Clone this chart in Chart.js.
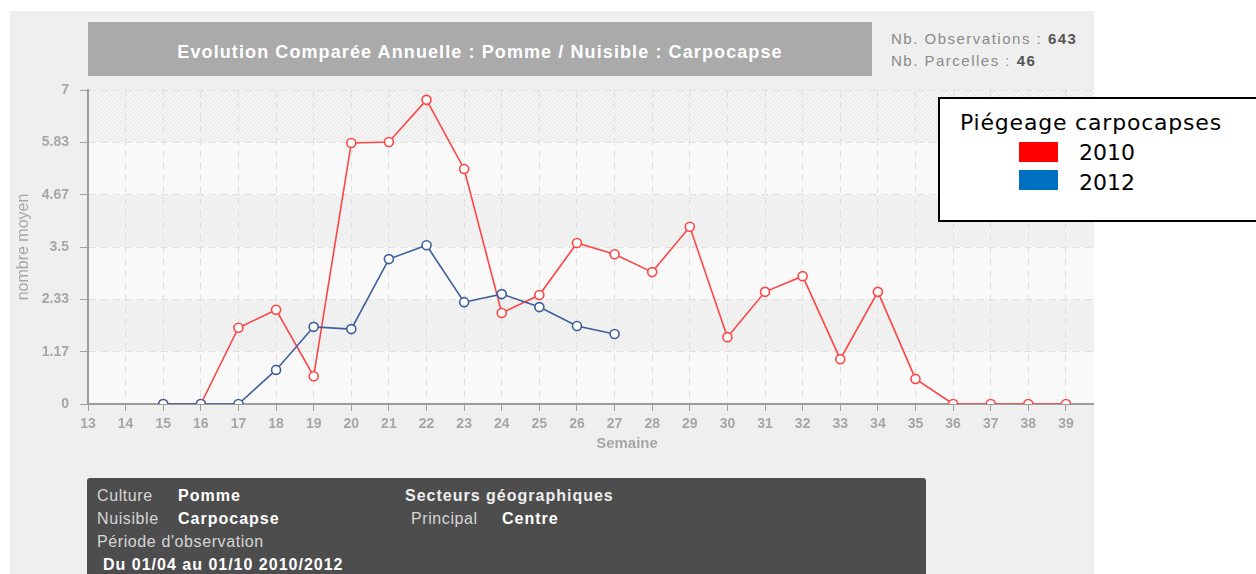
<!DOCTYPE html>
<html>
<head>
<meta charset="utf-8">
<script src="https://cdn.jsdelivr.net/npm/chart.js@4.4.0/dist/chart.umd.min.js"></script>
<style>
    body {
        margin: 0;
        width: 1256px;
        height: 574px;
        overflow: hidden;
        position: relative;
        background: #fff;
        font-family: "Liberation Sans", Arial, sans-serif;
    }
    .panel {
        position: absolute;
        left: 10px;
        top: 11px;
        width: 1084px;
        height: 563px;
        background: #efefef;
    }
    .title-box {
        position: absolute;
        left: 88px;
        top: 22px;
        width: 784px;
        height: 48px;
        padding-top: 6px;
        line-height: 48px;
        background: #aaa;
        color: #fff;
        font-size: 18px;
        font-weight: bold;
        letter-spacing: 1.1px;
        text-align: center;
    }
    .stats {
        position: absolute;
        left: 891px;
        top: 28px;
        font-size: 15px;
        line-height: 22px;
        letter-spacing: 1.5px;
        color: #8a8a8a;
    }
    .stats b { color: #555; }
    .chart-wrap {
        position: absolute;
        left: 0;
        top: 0;
        width: 1094px;
        height: 574px;
        overflow: hidden;
    }
    .legend {
        position: absolute;
        left: 938px;
        top: 97px;
        width: 340px;
        height: 125px;
        box-sizing: border-box;
        border: 2px solid #000;
        background: #fff;
        font-family: "DejaVu Sans", Verdana, sans-serif;
        font-size: 22px;
        color: #000;
    }
    .legend div { position: absolute; line-height: 22px; white-space: nowrap; }
    .legend .title { letter-spacing: 0.8px; }
    .legend .swatch { width: 39px; height: 20px; }
    .info {
        position: absolute;
        left: 87px;
        top: 478px;
        width: 839px;
        height: 110px;
        background: #4d4d4d;
        border-radius: 3px;
        font-size: 16px;
        letter-spacing: 0.6px;
        color: #d6d6d6;
    }
    .info div { position: absolute; line-height: 23px; white-space: nowrap; }
    .info b { color: #fff; letter-spacing: 1px; }
</style>
</head>
<body>

<div class="panel"></div>
<div class="title-box">Evolution Comparée Annuelle : Pomme / Nuisible : Carpocapse</div>
<div class="stats">Nb. Observations : <b>643</b><br>Nb. Parcelles : <b>46</b></div>

<div class="chart-wrap">
    <canvas id="trap_chart" width="1256" height="574"></canvas>
</div>

<div class="legend"></div>

<div class="info">
    <div style="left:10px; top:6px">Culture</div>
    <div style="left:91px; top:6px"><b>Pomme</b></div>
    <div style="left:318px; top:6px"><b style="color:#eee">Secteurs géographiques</b></div>
    <div style="left:10px; top:29px">Nuisible</div>
    <div style="left:91px; top:29px"><b>Carpocapse</b></div>
    <div style="left:324px; top:29px">Principal</div>
    <div style="left:415px; top:29px"><b>Centre</b></div>
    <div style="left:10px; top:52px">Période d'observation</div>
    <div style="left:16px; top:75px"><b>Du 01/04 au 01/10 2010/2012</b></div>
</div>

<script>
// data
weeks_2010 = [15, 16, 17, 18, 19, 20, 21, 22, 23, 24, 25, 26, 27, 28, 29, 30, 31, 32, 33, 34, 35, 36, 37, 38, 39]
values_2010 = [0, 0, 1.7, 2.1, 0.62, 5.82, 5.84, 6.78, 5.24, 2.03, 2.43, 3.59, 3.34, 2.94, 3.95, 1.49, 2.5, 2.85, 1.0, 2.5, 0.56, 0, 0, 0, 0]

weeks_2012 = [15, 16, 17, 18, 19, 20, 21, 22, 23, 24, 25, 26, 27]
values_2012 = [0, 0, 0, 0.76, 1.72, 1.67, 3.23, 3.54, 2.27, 2.45, 2.16, 1.74, 1.56]

y_tick_values = [0, 1.1667, 2.3333, 3.5, 4.6667, 5.8333, 7]
y_tick_labels = ['0', '1.17', '2.33', '3.5', '4.67', '5.83', '7']

legend_title = 'Piégeage carpocapses'
legend_labels = ['2010', '2012']
legend_colors = ['#ff0000', '#0070c0']

//legend
legend = document.getElementsByClassName('legend')[0]
legend.innerHTML = `<div class="title" style="left:20px; top:13px">${legend_title}</div>`
for (i in legend_labels) {
    legend.innerHTML +=
    `
        <div class="swatch" style="left:79px; top:${43 + i * 28}px; background:${legend_colors[i]}"></div>
        <div style="left:139px; top:${43 + i * 30}px">${legend_labels[i]}</div>
    `
}

//chart
function toPoints(weeks, values) {
    return weeks.map((w, i) => ({x: w, y: values[i]}))
}

// striped bands behind the grid
const bandsPlugin = {
    id: 'bands',
    beforeDraw(chart) {
        const ctx = chart.ctx
        const area = chart.chartArea
        const y = chart.scales.y
        ctx.save()
        ctx.fillStyle = '#f9f9f9'
        ctx.fillRect(area.left, area.top, area.right - area.left, area.bottom - area.top)
        for (let i = 1; i < y_tick_values.length - 1; i += 2) {
            const top = y.getPixelForValue(y_tick_values[i + 1])
            const bottom = y.getPixelForValue(y_tick_values[i])
            const h = bottom - top
            ctx.save()
            ctx.beginPath()
            ctx.rect(area.left, top, area.right - area.left, h)
            ctx.clip()
            ctx.fillStyle = '#f4f4f4'
            ctx.fillRect(area.left, top, area.right - area.left, h)
            ctx.strokeStyle = '#e6e6e6'
            ctx.lineWidth = 1
            ctx.beginPath()
            for (let x = area.left - h; x < area.right; x += 4) {
                ctx.moveTo(x, bottom)
                ctx.lineTo(x + h, top)
            }
            ctx.stroke()
            ctx.restore()
        }
        ctx.restore()
    }
}

Chart.defaults.font.family = '"Liberation Sans", Arial, sans-serif'

const ctx = document.getElementById('trap_chart')

new Chart(ctx, {
    type: 'line',
    data: {
        datasets: [{
            label: '2012',
            data: toPoints(weeks_2012, values_2012),
            borderColor: '#3d5f9c',
            borderWidth: 1.6,
            pointRadius: 4.5,
            pointBorderWidth: 1.6,
            pointBackgroundColor: '#fff',
            pointBorderColor: '#3d5f9c'
        },
        {
            label: '2010',
            data: toPoints(weeks_2010, values_2010),
            borderColor: '#ff4444',
            borderWidth: 1.6,
            pointRadius: 4.5,
            pointBorderWidth: 1.6,
            pointBackgroundColor: '#fff',
            pointBorderColor: '#ff4444'
        }]
    },
    options: {
        responsive: false,
        animation: false,
        layout: {
            padding: {top: 90, left: 0, right: 90, bottom: 0}
        },
        plugins: {
            legend: {display: false},
            tooltip: {enabled: false}
        },
        scales: {
            x: {
                type: 'linear',
                min: 13,
                max: 41.66,
                afterFit: (scale) => { scale.height = 170 },
                ticks: {
                    stepSize: 1,
                    autoSkip: false,
                    maxRotation: 0,
                    padding: 5,
                    color: '#a6a6a6',
                    font: {size: 14, weight: 'bold'},
                    callback: (v) => Number.isInteger(v) ? v : ''
                },
                grid: {
                    color: '#e0e0e0',
                    tickColor: '#a0a0a0',
                    tickLength: 7,
                    tickBorderDash: []
                },
                border: {
                    color: '#9c9c9c',
                    width: 2,
                    dash: [7, 5]
                },
                title: {
                    display: true,
                    text: 'Semaine',
                    color: '#a6a6a6',
                    font: {size: 15, weight: 'bold'},
                    padding: {top: 0, bottom: 121}
                }
            },
            y: {
                min: 0,
                max: 7,
                afterFit: (scale) => { scale.width = 88 },
                afterBuildTicks: (scale) => {
                    scale.ticks = y_tick_values.map((v) => ({value: v}))
                },
                ticks: {
                    padding: 11,
                    color: '#a6a6a6',
                    font: {size: 14, weight: 'bold'},
                    callback: (v, i) => y_tick_labels[i]
                },
                grid: {
                    color: '#e0e0e0',
                    tickColor: '#a0a0a0',
                    tickLength: 8,
                    tickBorderDash: []
                },
                border: {
                    color: '#9c9c9c',
                    width: 2,
                    dash: [7, 5]
                },
                title: {
                    display: true,
                    text: 'nombre moyen',
                    color: '#a6a6a6',
                    font: {size: 16},
                    padding: {top: 14, bottom: 0}
                }
            }
        }
    },
    plugins: [bandsPlugin]
})
</script>
</body>
</html>
